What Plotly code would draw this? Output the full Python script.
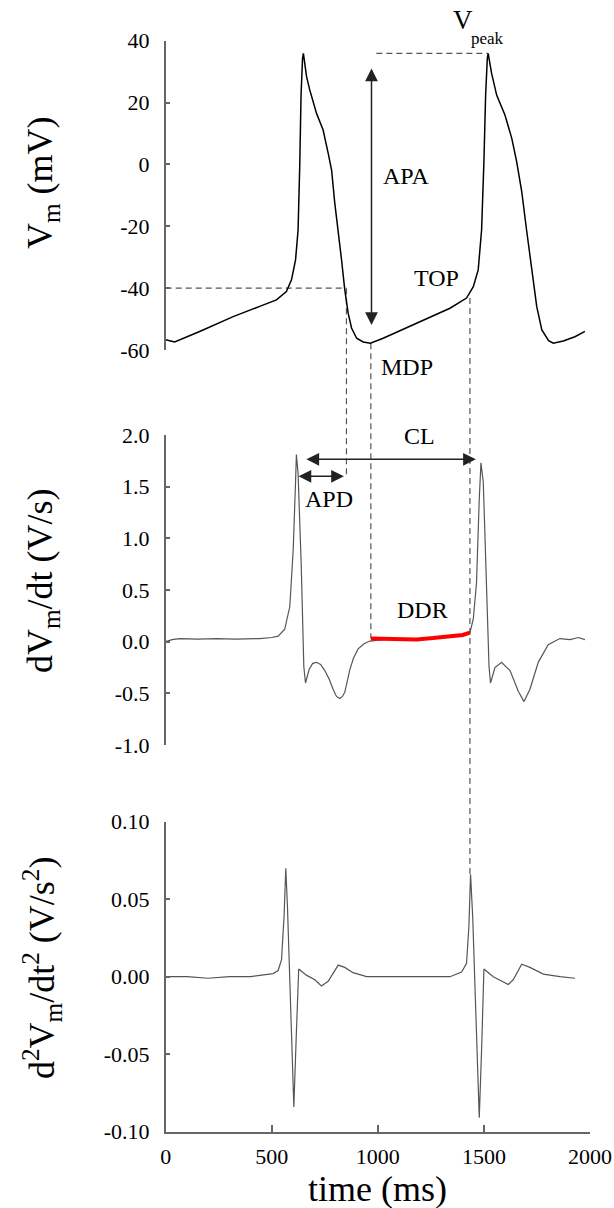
import plotly.graph_objects as go

# ---------------- data ----------------
t_vm = [0, 42, 160, 318, 443, 522, 569, 593, 612, 624, 632, 638, 645, 649,
        664, 679, 711, 742, 766, 782, 797, 813, 829, 844, 860, 876, 900, 931, 965,
        1025, 1182, 1340, 1418, 1450, 1473, 1489, 1500, 1508, 1516, 1520,
        1536, 1560, 1599, 1631, 1654, 1678, 1701, 1725, 1749, 1773, 1805, 1827,
        1874, 1929, 1976]
v_vm = [-56.7, -57.4, -54.0, -49.2, -45.9, -43.8, -41.1, -37.3, -30.9, -21.2, 0.1, 22.4, 34.3, 35.9,
        28.4, 24.1, 16.5, 11.1, 3.6, -1.8, -12.5, -21.2, -30.9, -40.5, -48.1, -52.9, -56.2, -57.4, -57.8,
        -56.2, -51.3, -46.5, -43.2, -39.5, -34.1, -21.2, 1.0, 22.4, 34.3, 35.9,
        29.5, 22.4, 16.0, 8.5, 1.0, -8.7, -21.2, -34.1, -46.0, -53.5, -57.0, -57.8,
        -57.1, -55.7, -54.0]

t_dv = [0, 30, 66, 150, 239, 330, 443, 500, 530, 561, 585, 601, 612, 616, 624, 639, 651, 659,
        676, 693, 711, 730, 750, 770, 789, 805, 821, 833, 844, 856, 868, 885, 907, 935, 962,
        1050, 1182, 1260, 1340, 1400, 1434, 1450, 1465, 1478, 1486, 1497, 1512, 1524, 1531,
        1552, 1583, 1623, 1662, 1689, 1717, 1756, 1803, 1858, 1906, 1945, 1976]
v_dv = [0.0, 0.02, 0.03, 0.025, 0.03, 0.025, 0.03, 0.04, 0.054, 0.12, 0.34, 0.89, 1.54, 1.81, 1.63, 0.73, -0.24, -0.40,
        -0.27, -0.21, -0.20, -0.22, -0.28, -0.36, -0.46, -0.53, -0.55, -0.53, -0.49, -0.38, -0.27, -0.16, -0.07, -0.02, 0.006,
        0.025, 0.022, 0.035, 0.048, 0.065, 0.087, 0.22, 0.57, 1.38, 1.73, 1.54, 0.57, -0.24, -0.40,
        -0.25, -0.20, -0.28, -0.48, -0.58, -0.46, -0.20, -0.03, 0.03, 0.02, 0.04, 0.02]

t_ddr = [967, 1000, 1050, 1100, 1182, 1260, 1340, 1400, 1434]
v_ddr = [0.03, 0.028, 0.025, 0.027, 0.022, 0.035, 0.048, 0.065, 0.087]

t_d2 = [0, 100, 200, 300, 400, 506, 530, 546, 558, 566, 574, 582, 593, 604, 616, 627,
        663, 703, 734, 766, 813, 844, 883, 947, 1100, 1250, 1340, 1395, 1418, 1429, 1437,
        1447, 1458, 1468, 1478, 1489, 1500, 1544, 1615, 1638, 1678, 1717, 1780, 1858, 1929]
v_d2 = [0.0, 0.0, -0.001, 0.0, 0.0, 0.002, 0.004, 0.011, 0.039, 0.070, 0.045, 0.006, -0.036, -0.084, -0.036, 0.005,
        0.001, -0.002, -0.006, -0.003, 0.0075, 0.006, 0.0026, 0.0, 0.0, 0.0, 0.0, 0.003, 0.0086, 0.032, 0.066,
        0.039, -0.004, -0.047, -0.091, -0.047, 0.005, 0.0, -0.005, -0.002, 0.008, 0.006, 0.0017, 0.0, -0.001]

x_ticks = [0, 500, 1000, 1500, 2000]
y1_ticks = [40, 20, 0, -20, -40, -60]
y1_text = ["40", "20", "0", "-20", "-40", "-60"]
y2_ticks = [2.0, 1.5, 1.0, 0.5, 0.0, -0.5, -1.0]
y2_text = ["2.0", "1.5", "1.0", "0.5", "0.0", "-0.5", "-1.0"]
y3_ticks = [0.10, 0.05, 0.0, -0.05, -0.10]
y3_text = ["0.10", "0.05", "0.00", "-0.05", "-0.10"]

# ---------------- layout geometry ----------------
W, H = 614, 1208
XD = [165.7 / W, 590 / W]
D1 = [1 - 350 / H, 1 - 40.7 / H]
D2 = [1 - 745 / H, 1 - 435 / H]
D3 = [1 - 1131.7 / H, 1 - 821.7 / H]
R1, R2, R3 = [-60, 40], [-1, 2], [-0.1, 0.1]
XR = [0, 2000]

def yp(dom, rng, v):
    return dom[0] + (v - rng[0]) / (rng[1] - rng[0]) * (dom[1] - dom[0])

FONT = "Liberation Serif"
AX = "#666666"

fig = go.Figure()
fig.add_trace(go.Scatter(x=t_vm, y=v_vm, mode="lines", line=dict(color="black", width=1.5),
                         xaxis="x", yaxis="y", showlegend=False))
fig.add_trace(go.Scatter(x=t_dv, y=v_dv, mode="lines", line=dict(color="#555555", width=1.2),
                         xaxis="x2", yaxis="y2", showlegend=False))
fig.add_trace(go.Scatter(x=t_ddr, y=v_ddr, mode="lines", line=dict(color="#ff0000", width=4),
                         xaxis="x2", yaxis="y2", showlegend=False))
fig.add_trace(go.Scatter(x=t_d2, y=v_d2, mode="lines", line=dict(color="#555555", width=1.2),
                         xaxis="x3", yaxis="y3", showlegend=False))

def yax(dom, rng, tv, tt, anchor):
    return dict(domain=dom, range=rng, anchor=anchor, showline=True, linecolor=AX, linewidth=1.5,
                ticks="inside", ticklen=5, tickcolor=AX, tickwidth=1.5, tickvals=tv, ticktext=tt,
                showgrid=False, zeroline=False, ticklabelstandoff=10, automargin=False,
                tickfont=dict(family=FONT, size=22, color="black"))

fig.update_layout(
    template="none",
    width=W, height=H, margin=dict(l=0, r=0, t=0, b=0, pad=0, autoexpand=False),
    paper_bgcolor="white", plot_bgcolor="white", showlegend=False,
    xaxis=dict(domain=XD, range=XR, visible=False, anchor="y", automargin=False),
    xaxis2=dict(domain=XD, range=XR, visible=False, anchor="y2", automargin=False),
    xaxis3=dict(domain=XD, range=XR, anchor="y3", showline=True, linecolor=AX, linewidth=1.5,
                ticks="inside", ticklen=7, tickcolor=AX, tickwidth=1.5, tickvals=x_ticks,
                ticktext=[str(v) for v in x_ticks], showgrid=False, zeroline=False, automargin=False,
                ticklabelstandoff=4, tickfont=dict(family=FONT, size=22, color="black")),
    yaxis=yax(D1, R1, y1_ticks, y1_text, "x"),
    yaxis2=yax(D2, R2, y2_ticks, y2_text, "x2"),
    yaxis3=yax(D3, R3, y3_ticks, y3_text, "x3"),
)

DASH = "6px,4px"
dl = dict(color="#555555", width=1.2, dash=DASH)
shapes = [
    dict(type="line", xref="x", yref="y", x0=0, x1=852, y0=-40, y1=-40, line=dl, layer="below"),
    dict(type="line", xref="x", yref="y", x0=993, x1=1519, y0=35.9, y1=35.9, line=dl, layer="below"),
    dict(type="line", xref="x", yref="paper", x0=852, x1=852,
         y0=yp(D1, R1, -40), y1=yp(D2, R2, 1.60), line=dl, layer="below"),
    dict(type="line", xref="x", yref="paper", x0=967, x1=967,
         y0=yp(D1, R1, -57.8), y1=yp(D2, R2, 0.03), line=dl, layer="below"),
    dict(type="line", xref="x", yref="paper", x0=1434, x1=1434,
         y0=yp(D1, R1, -43.2), y1=yp(D3, R3, 0.066), line=dl, layer="below"),
]
fig.update_layout(shapes=shapes)

def darrow(xr, yr, x0, y0, x1, y1):
    fig.add_annotation(x=x1, y=y1, ax=x0, ay=y0, xref=xr, yref=yr, axref=xr, ayref=yr,
                       text="", showarrow=True, arrowside="end+start", arrowhead=2,
                       startarrowhead=2, arrowsize=1.7, startarrowsize=1.7, arrowwidth=1.5,
                       arrowcolor="#222222", standoff=0, startstandoff=0)

darrow("x", "y", 970, -52.4, 970, 31)
darrow("x2", "y2", 656, 1.765, 1462, 1.765)
darrow("x2", "y2", 619, 1.60, 840, 1.60)

def lab(xr, yr, x, y, s, size=24):
    fig.add_annotation(x=x, y=y, xref=xr, yref=yr, text=s, showarrow=False,
                       xanchor="center", yanchor="middle",
                       font=dict(family=FONT, size=size, color="black"))

lab("x", "y", 1135, -3.9, "APA")
lab("x", "y", 1277, -36.8, "TOP")
lab("x2", "y2", 1195, 1.99, "CL")
lab("x2", "y2", 770, 1.376, "APD")
lab("x2", "y2", 1211, 0.306, "DDR")
# labels lying outside the top panel's value range are placed in page coordinates
lab("paper", "paper", 407 / W, 1 - 367 / H, "MDP")
lab("paper", "paper", 463.3 / W, 1 - 20 / H, "V", 27)
lab("paper", "paper", 487 / W, 1 - 38.5 / H, "peak", 17)

def title(xpx, ypx, s, angle):
    fig.add_annotation(x=xpx / W, y=1 - ypx / H, xref="paper", yref="paper", text=s,
                       showarrow=False, textangle=angle, xanchor="center", yanchor="middle",
                       font=dict(family=FONT, size=36, color="black"))

title(42, 183, "V<sub>m</sub> (mV)", -90)
title(42, 581, "dV<sub>m</sub>/dt (V/s)", -90)
title(42, 968, "d<sup>2</sup>V<sub>m</sub>/dt<sup>2</sup> (V/s<sup>2</sup>)", -90)
title(377, 1189, "time (ms)", 0)

fig.write_html(
    "out.html",
    config={"displayModeBar": False},
    post_script="document.body.style.margin='0';document.body.style.padding='0';"
                "document.body.style.overflow='hidden';",
)
